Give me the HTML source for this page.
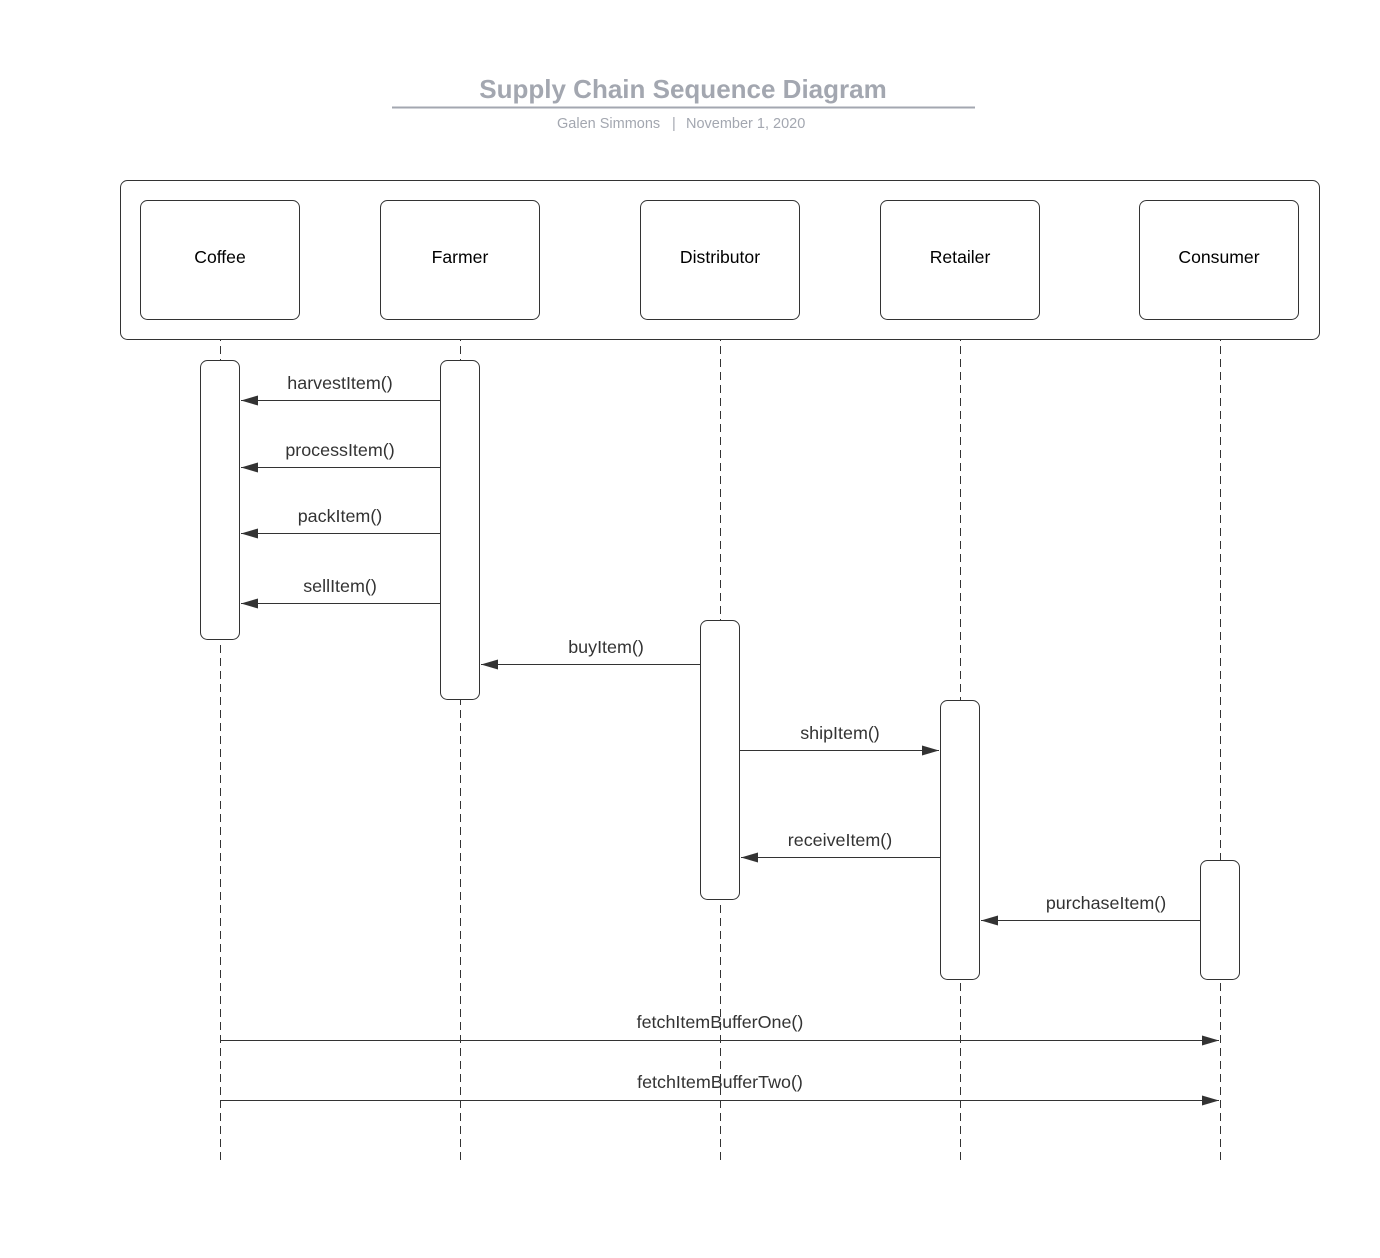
<!DOCTYPE html>
<html><head><meta charset="utf-8"><style>
body{margin:0;background:#fff}
svg{display:block;font-family:"Liberation Sans",Arial,sans-serif}
</style></head><body>
<svg width="1380" height="1258" viewBox="0 0 1380 1258" xmlns="http://www.w3.org/2000/svg">
<rect width="1380" height="1258" fill="#fff"/>
<defs><marker id="a" markerWidth="18" markerHeight="10" refX="17" refY="5" orient="auto" markerUnits="userSpaceOnUse"><path d="M0,0 L17,5 L0,10 Z" fill="#333"/></marker></defs>
<text x="683" y="98" text-anchor="middle" font-size="26" font-weight="bold" fill="#a3a7b0">Supply Chain Sequence Diagram</text>
<line x1="392" y1="107.5" x2="975" y2="107.5" stroke="#a3a7b0" stroke-width="2"/>
<g font-size="14.5" fill="#a3a7b0">
<text x="557" y="128">Galen Simmons</text>
<text x="672" y="128">|</text>
<text x="686" y="128">November 1, 2020</text>
</g>
<g fill="none" stroke="#333" stroke-width="1" stroke-dasharray="8,5">
<line x1="220.5" y1="320" x2="220.5" y2="1165"/>
<line x1="460.5" y1="320" x2="460.5" y2="1165"/>
<line x1="720.5" y1="320" x2="720.5" y2="1160"/>
<line x1="960.5" y1="320" x2="960.5" y2="1160"/>
<line x1="1220.5" y1="320" x2="1220.5" y2="1160"/>
</g>
<g fill="#fff" stroke="#333" stroke-width="1">
<rect x="120.5" y="180.5" width="1199" height="159" rx="7"/>
<rect x="140.5" y="200.5" width="159" height="119" rx="7"/>
<rect x="380.5" y="200.5" width="159" height="119" rx="7"/>
<rect x="640.5" y="200.5" width="159" height="119" rx="7"/>
<rect x="880.5" y="200.5" width="159" height="119" rx="7"/>
<rect x="1139.5" y="200.5" width="159" height="119" rx="7"/>
<rect x="200.5" y="360.5" width="39" height="279" rx="7"/>
<rect x="440.5" y="360.5" width="39" height="339" rx="7"/>
<rect x="700.5" y="620.5" width="39" height="279" rx="7"/>
<rect x="940.5" y="700.5" width="39" height="279" rx="7"/>
<rect x="1200.5" y="860.5" width="39" height="119" rx="7"/>
</g>
<g font-size="17.6" fill="#000" text-anchor="middle">
<text x="220" y="263">Coffee</text><text x="460" y="263">Farmer</text><text x="720" y="263">Distributor</text><text x="960" y="263">Retailer</text><text x="1219" y="263">Consumer</text>
</g>
<g stroke="#333" stroke-width="1" marker-end="url(#a)">
<line x1="440" y1="400.5" x2="241" y2="400.5"/>
<line x1="440" y1="467.5" x2="241" y2="467.5"/>
<line x1="440" y1="533.5" x2="241" y2="533.5"/>
<line x1="440" y1="603.5" x2="241" y2="603.5"/>
<line x1="700" y1="664.5" x2="481" y2="664.5"/>
<line x1="740" y1="750.5" x2="939" y2="750.5"/>
<line x1="940" y1="857.5" x2="741" y2="857.5"/>
<line x1="1200" y1="920.5" x2="981" y2="920.5"/>
<line x1="220" y1="1040.5" x2="1219" y2="1040.5"/>
<line x1="220" y1="1100.5" x2="1219" y2="1100.5"/>
</g>
<g font-size="17.9" fill="#333" text-anchor="middle">
<text x="340" y="389">harvestItem()</text>
<text x="340" y="456">processItem()</text>
<text x="340" y="522">packItem()</text>
<text x="340" y="592">sellItem()</text>
<text x="606" y="653">buyItem()</text>
<text x="840" y="739">shipItem()</text>
<text x="840" y="846">receiveItem()</text>
<text x="1106" y="909">purchaseItem()</text>
<text x="720" y="1028">fetchItemBufferOne()</text>
<text x="720" y="1088">fetchItemBufferTwo()</text>
</g>
</svg>
</body></html>
